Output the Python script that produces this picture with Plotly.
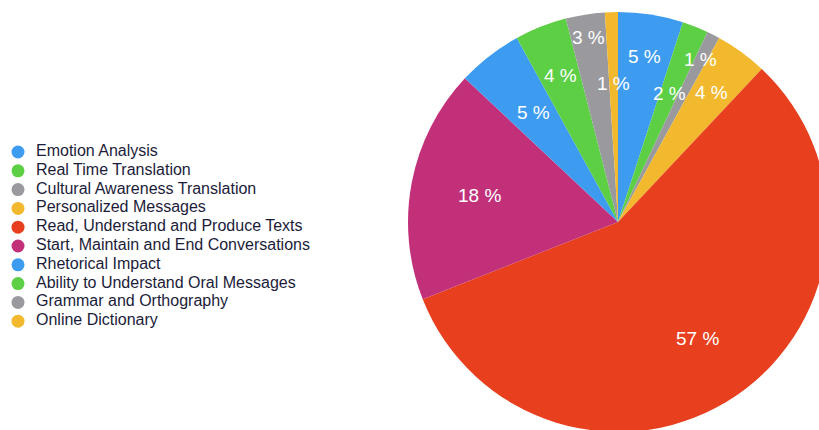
import math
import plotly.graph_objects as go

categories = [
    "Emotion Analysis",
    "Real Time Translation",
    "Cultural Awareness Translation",
    "Personalized Messages",
    "Read, Understand and Produce Texts",
    "Start, Maintain and End Conversations",
    "Rhetorical Impact",
    "Ability to Understand Oral Messages",
    "Grammar and Orthography",
    "Online Dictionary",
]
values = [5, 2, 1, 4, 57, 18, 5, 4, 3, 1]
value_labels = ["5 %", "2 %", "1 %", "4 %", "57 %", "18 %", "5 %", "4 %", "3 %", "1 %"]

colors = ["#3d9cf0", "#5dcf45", "#9a9a9e", "#f2b92e", "#e8401f",
          "#c2307a", "#3d9cf0", "#5dcf45", "#9a9a9e", "#f2b92e"]
label_radius = [0.80, 0.66, 0.87, 0.76, 0.67, 0.67, 0.66, 0.75, 0.89, 0.66]

# figure slightly larger than the window so the pie is clipped at the edge
W, H = 832, 440
cx, cy, R = 618, 222, 210

FONT = "Liberation Sans, Arial, Helvetica"

fig = go.Figure()
fig.add_trace(go.Pie(
    labels=categories, values=values, sort=False, direction="clockwise",
    rotation=0, textinfo="none", showlegend=False, hoverinfo="label+percent",
    marker=dict(colors=colors, line=dict(width=0)),
    domain=dict(x=[(cx - R) / W, (cx + R) / W], y=[1 - (cy + R) / H, 1 - (cy - R) / H]),
))

# legend drawn as a list trace on hidden axes
rows = list(range(len(categories)))
row_h = 18.8
first_row = 152
leg_top = first_row - row_h / 2
leg_bot = leg_top + row_h * len(categories)
fig.add_trace(go.Scatter(
    x=[0] * len(categories), y=rows, mode="markers", showlegend=False, hoverinfo="skip",
    marker=dict(symbol="circle", size=13, color=colors, line=dict(width=0)),
))
fig.add_trace(go.Scatter(
    x=[18] * len(categories), y=rows, mode="text", text=categories, showlegend=False,
    textposition="middle right", hoverinfo="skip",
    textfont=dict(family=FONT, size=16, color="#1c1c3a"),
))

total = sum(values)
cum = 0
annotations = []
for v, t, rf in zip(values, value_labels, label_radius):
    mid = (cum + v / 2) / total * 2 * math.pi
    cum += v
    px = cx + rf * R * math.sin(mid)
    py = cy - rf * R * math.cos(mid)
    annotations.append(dict(x=px / W, y=1 - py / H, xref="paper", yref="paper",
                            xanchor="center", yanchor="middle",
                            text=t, showarrow=False,
                            font=dict(family=FONT, size=19, color="white")))

fig.update_layout(
    width=W, height=H, margin=dict(l=0, r=0, t=0, b=0),
    paper_bgcolor="white", plot_bgcolor="rgba(0,0,0,0)",
    xaxis=dict(visible=False, domain=[0, 400 / W], range=[-18, 382], fixedrange=True),
    yaxis=dict(visible=False, domain=[1 - leg_bot / H, 1 - leg_top / H],
               range=[len(categories) - 0.5, -0.5], fixedrange=True),
    annotations=annotations,
    showlegend=False,
)

fig.write_html(
    "out.html",
    config={"displayModeBar": False},
    post_script="document.documentElement.style.overflow='hidden';"
                "document.body.style.margin='0';document.body.style.overflow='hidden';",
)
